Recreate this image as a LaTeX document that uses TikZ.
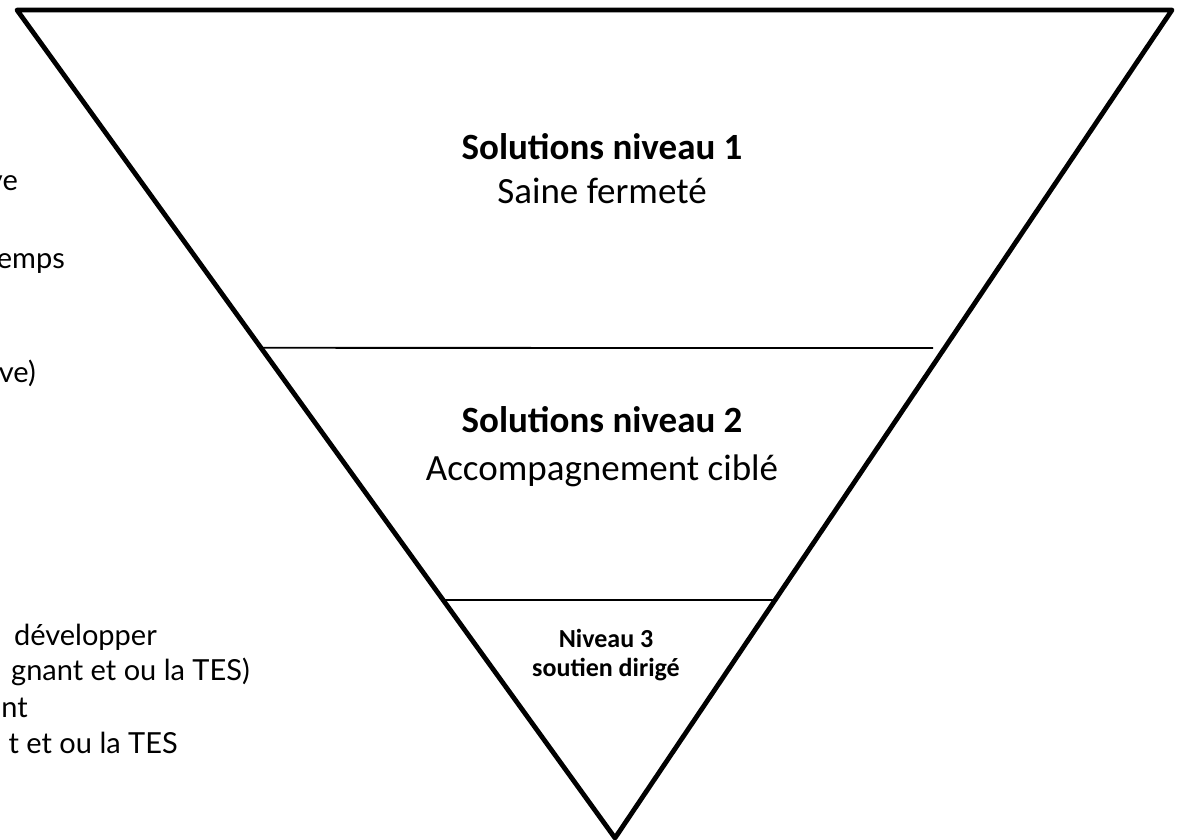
\documentclass[tikz,border=0pt]{standalone}
\usepackage{fontspec}
\setmainfont{Carlito}
\newfontfamily\leftfont{Lato}
\usetikzlibrary{calc}
\begin{document}
\begin{tikzpicture}[x=1pt,y=-1pt,
  edge/.style={line width=4.8pt,line join=round,line cap=round},
  sep/.style={line width=1.8pt},
  title/.style={anchor=base,font=\fontsize{37}{40}\selectfont\bfseries,inner sep=0pt},
  sub/.style={anchor=base,font=\fontsize{37}{40}\selectfont,inner sep=0pt},
  small/.style={anchor=base,font=\fontsize{26}{28}\selectfont\bfseries,inner sep=0pt},
  lefttxt/.style={anchor=base east,font=\leftfont\fontsize{29}{32}\selectfont,inner sep=0pt}]
\useasboundingbox (0,0) rectangle (1180,840);
\coordinate (A) at (17,10);
\coordinate (B) at (1172,10);
\coordinate (C) at (615,838);
% left text fragments (cut off at page edge)
\node[lefttxt] (l1) at (18,190) {ve};
\node[lefttxt] (l2) at (65,268) {emps};
\node[lefttxt] (l3) at (36,382) {ve)};
\node[lefttxt] (l4) at (157,645) {développer};
\node[lefttxt] (l5) at (250,680) {gnant et ou la TES)};
\node[lefttxt] (l6) at (28,717) {nt};
\node[lefttxt] (l7) at (178,753) {t et ou la TES};
% triangle
\filldraw[fill=white,edge] (A) -- (B) -- (C) -- cycle;
\coordinate (s1l) at ($(A)!0.408!(C)$);
\coordinate (s1r) at (933,348);
\coordinate (s2l) at ($(A)!0.7126!(C)$);
\coordinate (s2r) at ($(B)!0.7126!(C)$);
\draw[sep] (s1l) -- (s1r);
\draw[sep] (s2l) -- (s2r);
% labels
\node[title] (t1) at (602,160) {Solutions niveau 1};
\node[sub] (u1) at (602,203) {Saine fermeté};
\node[title] (t2) at (602,432) {Solutions niveau 2};
\node[sub] (u2) at (602,480) {Accompagnement ciblé};
\node[small] (t3) at (606,647) {Niveau 3};
\node[small] (u3) at (606,676) {soutien dirigé};
\end{tikzpicture}
\end{document}
